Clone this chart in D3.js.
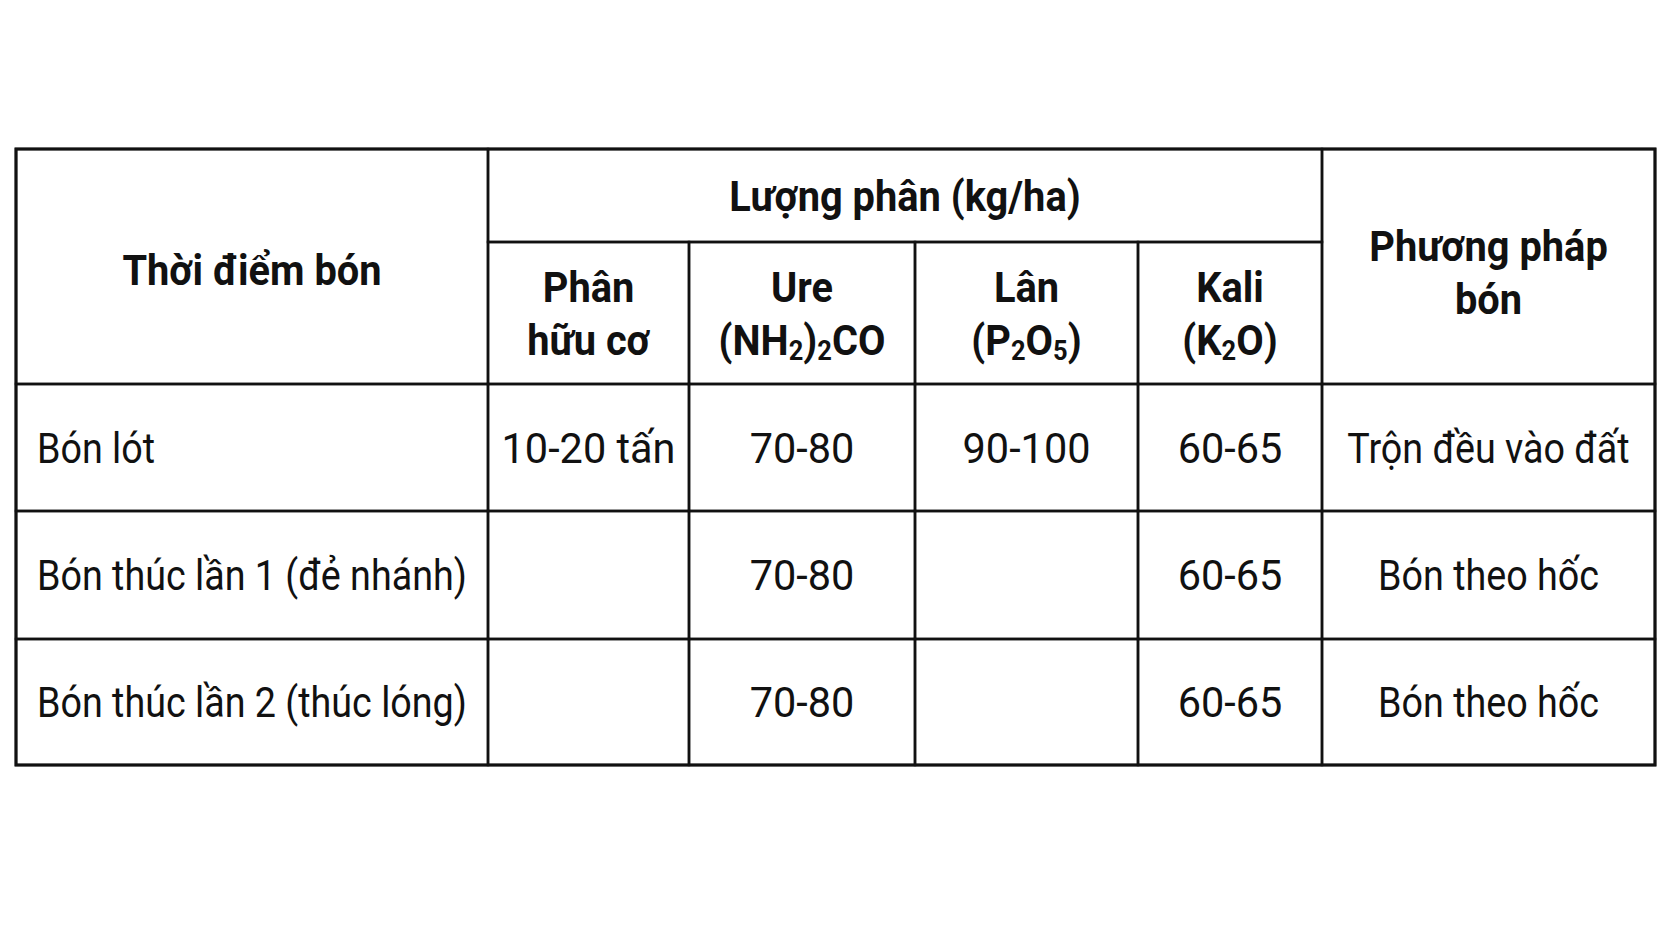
<!DOCTYPE html>
<html>
<head>
<meta charset="utf-8">
<script src="https://cdn.jsdelivr.net/npm/d3@7/dist/d3.min.js"></script>
<style>
  body { margin: 0; background: #fff; }
  svg { display: block; }
</style>
</head>
<body>
<svg id="chart" width="1672" height="941"></svg>
<script>
// table content
const timings = ['Bón lót', 'Bón thúc lần 1 (đẻ nhánh)', 'Bón thúc lần 2 (thúc lóng)'];
const organic = ['10-20 tấn', '', ''];
const urea = ['70-80', '70-80', '70-80'];
const phosphate = ['90-100', '', ''];
const potash = ['60-65', '60-65', '60-65'];
const methods = ['Trộn đều vào đất', 'Bón theo hốc', 'Bón theo hốc'];

const timingHeader = ['Thời điểm bón'];
const groupHeader = ['Lượng phân (kg/ha)'];
// "_2" marks a subscript digit
const fertHeaders = [['Phân', 'hữu cơ'], ['Ure', '(NH_2)_2CO'], ['Lân', '(P_2O_5)'], ['Kali', '(K_2O)']];
const methodHeader = ['Phương pháp', 'bón'];

// layout
const width = 1672;
const colWidths = [472, 201, 226, 223, 184, 333];
const rowHeights = [93, 142, 127, 128, 126];
const fontSize = 42;
const lineGap = 53;
const ink = '#111';

const colEdges = [0, ...d3.cumsum(colWidths)];
const rowEdges = [0, ...d3.cumsum(rowHeights)];
const x = d3.scaleLinear().domain([0, d3.sum(colWidths)]).range([16, 1655]);
const y = d3.scaleLinear().domain([0, d3.sum(rowHeights)]).range([149, 765]);

const svg = d3.select('#chart');
svg.append('rect').attr('width', width).attr('height', 941).attr('fill', '#fff');

const font = 'Roboto, "Open Sans", "DejaVu Sans", sans-serif';

// the reference face is condensed, so squeeze the text horizontally
function measure(str, weight) {
  const t = svg.append('text')
    .attr('font-family', font)
    .attr('font-size', fontSize)
    .attr('font-weight', weight)
    .text(str);
  const w = t.node().getComputedTextLength();
  t.remove();
  return w;
}
const squeezeRegular = 430 / measure(timings[2], 400);
const squeezeNumbers = squeezeRegular * 1.1;
const squeezeBold = 0.94 * 374 / measure(groupHeader[0], 700);

const cellGroup = svg.append('g');
const textGroup = svg.append('g');

function cell(c0, c1, r0, r1) {
  cellGroup.append('rect')
    .attr('x', x(colEdges[c0]))
    .attr('y', y(rowEdges[r0]))
    .attr('width', x(colEdges[c1]) - x(colEdges[c0]))
    .attr('height', y(rowEdges[r1]) - y(rowEdges[r0]))
    .attr('fill', 'none')
    .attr('stroke', ink)
    .attr('stroke-width', 2.5);
}

function label(lines, c0, c1, r0, r1, opts = {}) {
  const bold = !!opts.bold;
  const sx = bold ? squeezeBold : (opts.squeeze || squeezeRegular);
  const cy = (y(rowEdges[r0]) + y(rowEdges[r1])) / 2 + (opts.shift || 0);
  const left = opts.align === 'left';
  const px = left ? x(colEdges[c0]) + 21 : (x(colEdges[c0]) + x(colEdges[c1])) / 2;
  const drop = fontSize * 0.13;

  lines.forEach((line, i) => {
    // baseline sits 0.36em below the visual centre of the capitals
    const ly = cy + (i - (lines.length - 1) / 2) * lineGap + fontSize * 0.36;
    const t = textGroup.append('text')
      .attr('transform', `translate(${px},${ly}) scale(${sx},1)`)
      .attr('text-anchor', left ? 'start' : 'middle')
      .attr('font-family', font)
      .attr('font-size', fontSize)
      .attr('font-weight', bold ? 700 : 400)
      .attr('fill', ink);

    let lowered = false;
    line.split(/(_\d)/).filter(s => s).forEach(part => {
      if (part[0] === '_') {
        t.append('tspan')
          .attr('font-size', fontSize * 0.64)
          .attr('dy', lowered ? null : drop)
          .text(part.slice(1));
        lowered = true;
      } else {
        t.append('tspan')
          .attr('dy', lowered ? -drop : null)
          .text(part);
        lowered = false;
      }
    });
  });
}

// header cells
cell(0, 1, 0, 2);
cell(1, 5, 0, 1);
fertHeaders.forEach((h, i) => cell(i + 1, i + 2, 1, 2));
cell(5, 6, 0, 2);

label(timingHeader, 0, 1, 0, 2, { bold: true, shift: 3 });
label(groupHeader, 1, 5, 0, 1, { bold: true });
fertHeaders.forEach((h, i) => label(h, i + 1, i + 2, 1, 2, { bold: true }));
label(methodHeader, 5, 6, 0, 2, { bold: true, shift: 6 });

// body cells
const columns = [timings, organic, urea, phosphate, potash, methods];
timings.forEach((d, r) => {
  columns.forEach((col, c) => {
    cell(c, c + 1, r + 2, r + 3);
    if (col[r]) {
      label([col[r]], c, c + 1, r + 2, r + 3, {
        align: c === 0 ? 'left' : 'middle',
        squeeze: c >= 1 && c <= 4 ? squeezeNumbers : squeezeRegular
      });
    }
  });
});

// outer frame a touch heavier
cellGroup.append('rect')
  .attr('x', x(0)).attr('y', y(0))
  .attr('width', x(d3.sum(colWidths)) - x(0))
  .attr('height', y(d3.sum(rowHeights)) - y(0))
  .attr('fill', 'none')
  .attr('stroke', ink)
  .attr('stroke-width', 3);
</script>
</body>
</html>
